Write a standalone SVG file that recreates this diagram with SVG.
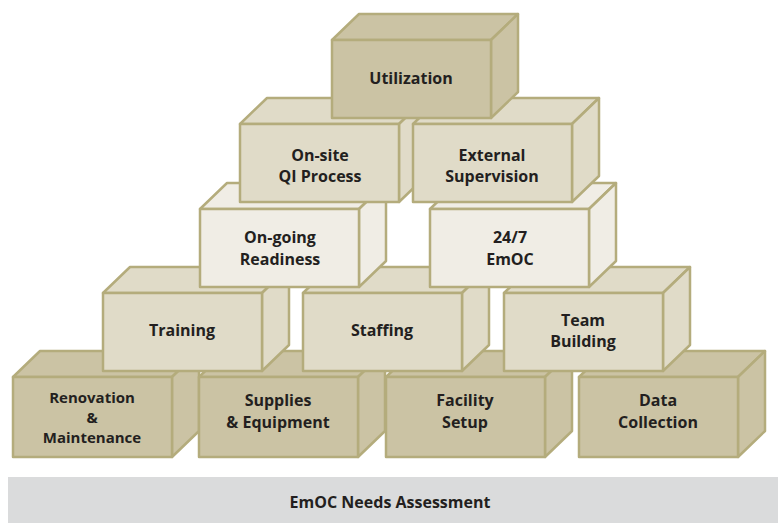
<svg xmlns="http://www.w3.org/2000/svg" width="778" height="523" viewBox="0 0 778 523">
  <style>
    .face { stroke: #b4ac7c; stroke-width: 2.5; stroke-linejoin: round; }
    .dark { fill: #cbc3a4; }
    .mid { fill: #e0dbc8; }
    .light { fill: #f0ede5; }
    .label { font-family: "Open Sans", "Liberation Sans", sans-serif; font-weight: 700; font-size: 16px; fill: #231f20; text-anchor: middle; }
    .tight { font-size: 15px; }
  </style>
  <defs>
    <!-- one box: front face at (0,0) 159 wide, depth offset (27,-26) -->
    <g id="box78">
      <polygon class="face" points="0,0 27,-26 186,-26 159,0"/>
      <polygon class="face" points="159,0 186,-26 186,52 159,78"/>
      <rect class="face" x="0" y="0" width="159" height="78"/>
    </g>
    <g id="box80">
      <polygon class="face" points="0,0 27,-26 186,-26 159,0"/>
      <polygon class="face" points="159,0 186,-26 186,54 159,80"/>
      <rect class="face" x="0" y="0" width="159" height="80"/>
    </g>
  </defs>

  <!-- base bar -->
  <g id="needs-assessment">
    <rect x="8" y="477" width="770" height="46" fill="#dadbdc"/>
    <text class="label" x="390" y="508" font-size="15">EmOC Needs Assessment</text>
  </g>

  <!-- bottom row -->
  <g id="renovation" class="dark">
    <use href="#box80" x="13" y="377"/>
    <text class="label tight" x="92" y="403">Renovation</text>
    <text class="label tight" x="92" y="423">&amp;</text>
    <text class="label tight" x="92" y="443">Maintenance</text>
  </g>
  <g id="supplies" class="dark">
    <use href="#box80" x="199" y="377"/>
    <text class="label" x="278" y="406">Supplies</text>
    <text class="label" x="278" y="428">&amp; Equipment</text>
  </g>
  <g id="facility" class="dark">
    <use href="#box80" x="386" y="377"/>
    <text class="label" x="465" y="406">Facility</text>
    <text class="label" x="465" y="428">Setup</text>
  </g>
  <g id="data-collection" class="dark">
    <use href="#box80" x="579" y="377"/>
    <text class="label" x="658" y="406">Data</text>
    <text class="label" x="658" y="428">Collection</text>
  </g>

  <!-- second row -->
  <g id="training" class="mid">
    <use href="#box78" x="103" y="293"/>
    <text class="label" x="182" y="336">Training</text>
  </g>
  <g id="staffing" class="mid">
    <use href="#box78" x="303" y="293"/>
    <text class="label" x="382" y="336">Staffing</text>
  </g>
  <g id="team-building" class="mid">
    <use href="#box78" x="504" y="293"/>
    <text class="label" x="583" y="326">Team</text>
    <text class="label" x="583" y="347">Building</text>
  </g>

  <!-- third row -->
  <g id="ongoing-readiness" class="light">
    <use href="#box78" x="200" y="209"/>
    <text class="label" x="280" y="243">On-going</text>
    <text class="label" x="280" y="265">Readiness</text>
  </g>
  <g id="emoc-247" class="light">
    <use href="#box78" x="430" y="209"/>
    <text class="label" x="510" y="243">24/7</text>
    <text class="label" x="510" y="265">EmOC</text>
  </g>

  <!-- fourth row -->
  <g id="onsite-qi" class="mid">
    <use href="#box78" x="240" y="124"/>
    <text class="label" x="320" y="161">On-site</text>
    <text class="label" x="320" y="182">QI Process</text>
  </g>
  <g id="external-supervision" class="mid">
    <use href="#box78" x="413" y="124"/>
    <text class="label" x="492" y="161">External</text>
    <text class="label" x="492" y="182">Supervision</text>
  </g>

  <!-- top -->
  <g id="utilization" class="dark">
    <use href="#box78" x="332" y="40"/>
    <text class="label" x="411" y="84">Utilization</text>
  </g>
</svg>
